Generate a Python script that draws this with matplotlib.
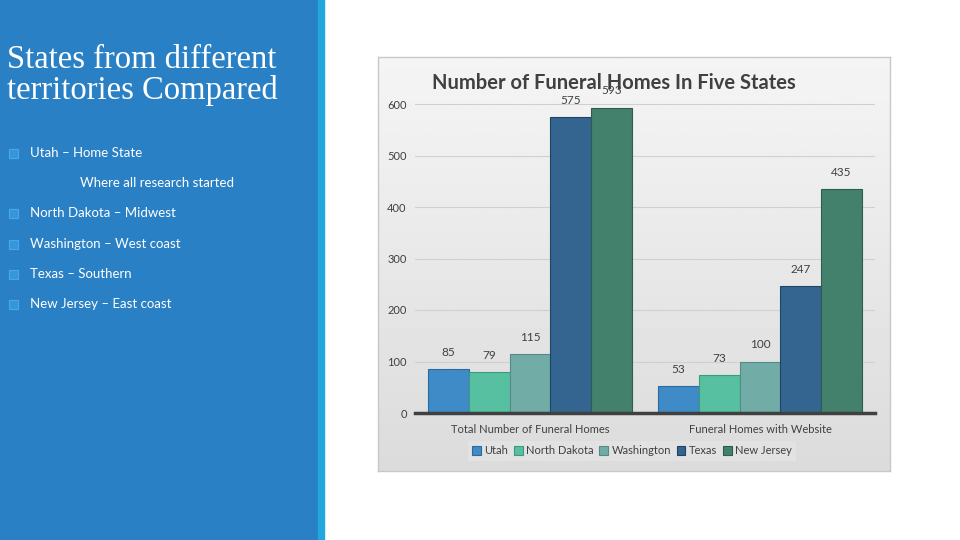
import numpy as np
import matplotlib.pyplot as plt

categories = ['Total Number of Funeral Homes', 'Funeral Homes with Website']
states = ['Utah', 'North Dakota', 'Washington', 'Texas', 'New Jersey']
values = {
    'Utah': [85, 53],
    'North Dakota': [79, 73],
    'Washington': [115, 100],
    'Texas': [575, 247],
    'New Jersey': [593, 435],
}
colors = ['#3e8bc8', '#56c0a0', '#72aca6', '#346590', '#43816c']
edges = ['#2b6a9c', '#3d9a80', '#558a85', '#1f4566', '#2c5f4d']
yticks = [0, 100, 200, 300, 400, 500, 600]

bullets = [
    ('Utah \u2013 Home State', True),
    ('Where all research started', False),
    ('North Dakota \u2013 Midwest', True),
    ('Washington \u2013 West coast', True),
    ('Texas \u2013 Southern', True),
    ('New Jersey \u2013 East coast', True),
]

W, H = 960, 540
fig = plt.figure(figsize=(9.6, 5.4), dpi=100)
fig.patch.set_facecolor('white')

# left blue panel and stripe
fig.patches.append(plt.Rectangle((0, 0), 318 / W, 1, transform=fig.transFigure,
                                 color='#2a80c5', zorder=0))
fig.patches.append(plt.Rectangle((318 / W, 0), 6 / W, 1, transform=fig.transFigure,
                                 color='#22a8df', zorder=0))

fig.text(7 / W, 1 - 75 / H, 'States from different\nterritories Compared',
         family='Liberation Serif', fontsize=23.5, color='white', va='center',
         ha='left', linespacing=1.0)

ys = [153, 183, 213, 244, 274, 304]
for (txt, has_box), y in zip(bullets, ys):
    if has_box:
        fig.patches.append(plt.Rectangle((9 / W, 1 - (y + 5) / H), 9 / W, 9 / H,
                                         transform=fig.transFigure,
                                         facecolor='#3596dc', edgecolor='#4aa8e8',
                                         lw=0.8, zorder=1))
        fig.text(30 / W, 1 - y / H, txt, family='Lato', fontsize=9.5,
                 color='white', va='center')
    else:
        fig.text(80 / W, 1 - y / H, txt, family='Lato', fontsize=9.5,
                 color='white', va='center')

# chart background box with gradient
bg = fig.add_axes([378 / W, 1 - 471 / H, 512 / W, 414 / H], zorder=0)
grad = np.linspace(0.96, 0.86, 256).reshape(-1, 1)
bg.imshow(np.repeat(grad, 2, axis=1), cmap='gray', vmin=0, vmax=1,
          aspect='auto', extent=[0, 1, 0, 1])
bg.set_xticks([])
bg.set_yticks([])
for s in bg.spines.values():
    s.set_color('#c8c8c8')
    s.set_linewidth(1)

ax = fig.add_axes([415 / W, 1 - 413 / H, 460 / W, 309 / H], zorder=1)
ax.patch.set_alpha(0)

x = np.arange(len(categories))
bw = 0.177
for i, st in enumerate(states):
    pos = x + (i - 2) * bw
    ax.bar(pos, values[st], bw, color=colors[i], edgecolor=edges[i],
           linewidth=0.8, label=st, zorder=3)
    for xx, v in zip(pos, values[st]):
        ax.annotate(str(v), (xx, v), xytext=(0, 8), textcoords='offset points',
                    ha='center', va='bottom', fontsize=8.5, family='Lato',
                    color='#404040', annotation_clip=False)

ax.set_xlim(-0.5, 1.5)
ax.set_ylim(0, 600)
ax.set_yticks(yticks)
ax.set_yticklabels([str(t) for t in yticks], family='Lato', fontsize=8,
                   color='#404040')
ax.tick_params(axis='y', length=0, pad=6)
ax.tick_params(axis='x', length=0, pad=8)
ax.set_xticks(x)
ax.set_xticklabels(categories, family='Lato', fontsize=8, color='#404040')
ax.grid(axis='y', color='#d0d0d0', linewidth=0.8, zorder=0)
for s in ['top', 'right', 'left']:
    ax.spines[s].set_visible(False)
ax.spines['bottom'].set_color('#404040')
ax.spines['bottom'].set_linewidth(2.5)
ax.spines['bottom'].set_zorder(4)

fig.text(614 / W, 1 - 83 / H, 'Number of Funeral Homes In Five States',
         family='Lato', fontweight='bold', fontsize=14.5, color='#404040',
         ha='center', va='center', zorder=2)

leg = ax.legend(loc='center', bbox_to_anchor=(632 / W, 1 - 451 / H),
                bbox_transform=fig.transFigure, ncol=5, frameon=True,
                prop={'family': 'Lato', 'size': 8}, handlelength=0.8,
                handleheight=0.8, handletextpad=0.3, columnspacing=0.5,
                borderpad=0.4, fancybox=False)
leg.get_frame().set_facecolor('#e4e4e4')
leg.get_frame().set_edgecolor('none')
for t in leg.get_texts():
    t.set_color('#404040')

fig.savefig('out.png', dpi=100)
